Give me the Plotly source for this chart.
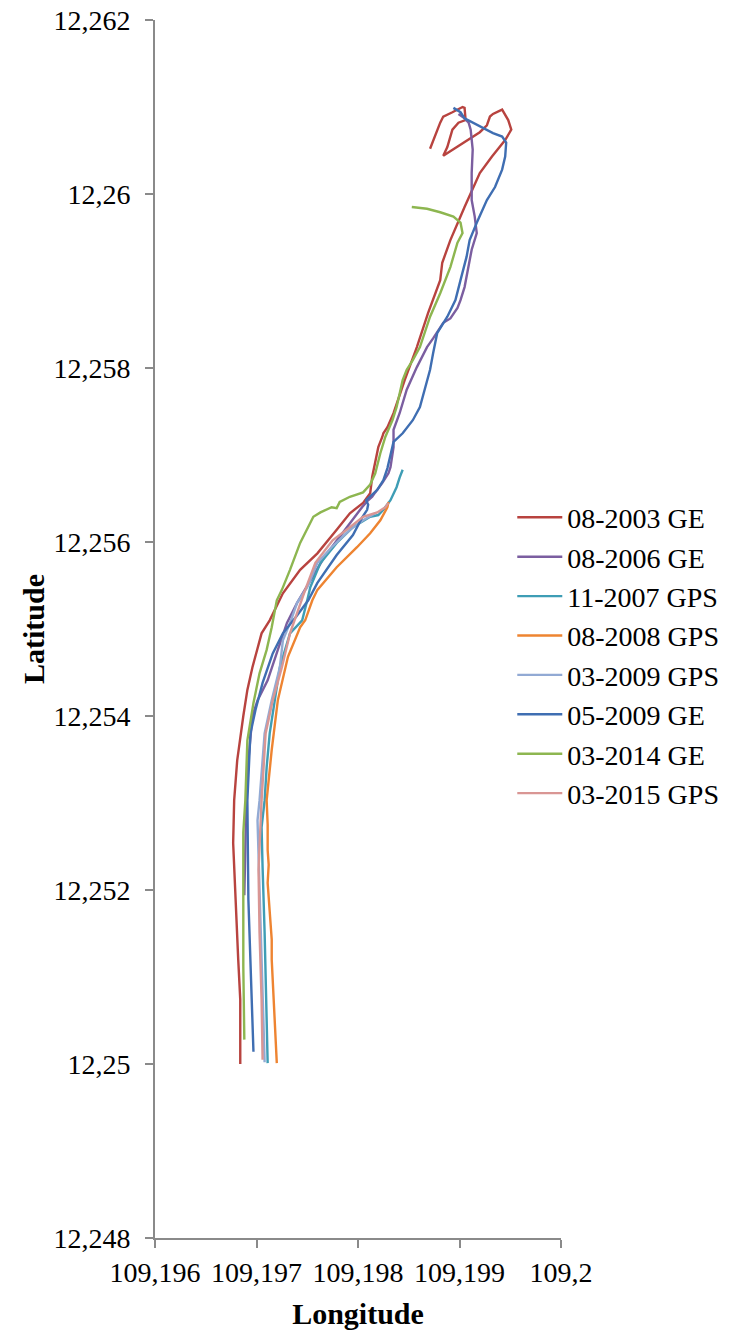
import plotly.graph_objects as go

# Surveyed river-bank tracks: (longitude, latitude) pairs, decimal degrees
TRACK_2003_GE = [
    (109.19684, 12.25000), (109.19684, 12.25074), (109.19682, 12.25120), (109.19681, 12.25151),
    (109.19679, 12.25200), (109.19677, 12.25254), (109.19678, 12.25303), (109.19681, 12.25349),
    (109.19687, 12.25400), (109.19691, 12.25430), (109.19696, 12.25456), (109.19705, 12.25495),
    (109.19713, 12.25510), (109.19726, 12.25541), (109.19743, 12.25568), (109.19760, 12.25587),
    (109.19779, 12.25614), (109.19792, 12.25633), (109.19805, 12.25645), (109.19812, 12.25656),
    (109.19814, 12.25675), (109.19817, 12.25691), (109.19820, 12.25709), (109.19824, 12.25721),
    (109.19825, 12.25725), (109.19829, 12.25732), (109.19832, 12.25740), (109.19835, 12.25748),
    (109.19846, 12.25786), (109.19858, 12.25824), (109.19869, 12.25863), (109.19881, 12.25901),
    (109.19883, 12.25921), (109.19891, 12.25947), (109.19905, 12.25985), (109.19913, 12.26005),
    (109.19920, 12.26024), (109.19932, 12.26043), (109.19945, 12.26062), (109.19951, 12.26074),
    (109.19948, 12.26085), (109.19942, 12.26097), (109.19937, 12.26094), (109.19933, 12.26092),
    (109.19930, 12.26089), (109.19927, 12.26079), (109.19920, 12.26071), (109.19908, 12.26062),
    (109.19888, 12.26048), (109.19884, 12.26044), (109.19888, 12.26054), (109.19893, 12.26074),
    (109.19899, 12.26082), (109.19906, 12.26085), (109.19905, 12.26099), (109.19903, 12.26100),
    (109.19893, 12.26094), (109.19884, 12.26089), (109.19881, 12.26082), (109.19871, 12.26052),
]

TRACK_2006_GE = [
    (109.19688, 12.25194), (109.19689, 12.25246), (109.19690, 12.25303), (109.19692, 12.25349),
    (109.19696, 12.25400), (109.19701, 12.25418), (109.19711, 12.25441), (109.19721, 12.25476),
    (109.19730, 12.25507), (109.19740, 12.25530), (109.19753, 12.25556), (109.19767, 12.25583),
    (109.19782, 12.25606), (109.19794, 12.25625), (109.19804, 12.25640), (109.19810, 12.25648),
    (109.19814, 12.25652), (109.19817, 12.25657), (109.19824, 12.25668), (109.19830, 12.25679),
    (109.19832, 12.25686), (109.19835, 12.25709), (109.19835, 12.25729), (109.19841, 12.25748),
    (109.19848, 12.25775), (109.19858, 12.25801), (109.19868, 12.25824), (109.19874, 12.25834),
    (109.19884, 12.25852), (109.19891, 12.25857), (109.19898, 12.25869), (109.19901, 12.25878),
    (109.19905, 12.25893), (109.19912, 12.25936), (109.19917, 12.25955), (109.19915, 12.25974),
    (109.19912, 12.25993), (109.19912, 12.26024), (109.19913, 12.26051), (109.19911, 12.26074),
    (109.19909, 12.26082), (109.19905, 12.26087), (109.19901, 12.26091), (109.19899, 12.26092),
]

TRACK_2007_GPS = [
    (109.19711, 12.25001), (109.19710, 12.25054), (109.19708, 12.25151), (109.19706, 12.25226),
    (109.19705, 12.25272), (109.19708, 12.25303), (109.19710, 12.25341), (109.19713, 12.25380),
    (109.19718, 12.25418), (109.19723, 12.25456), (109.19733, 12.25495), (109.19745, 12.25510),
    (109.19750, 12.25533), (109.19753, 12.25548), (109.19763, 12.25576), (109.19779, 12.25599),
    (109.19795, 12.25617), (109.19812, 12.25629), (109.19820, 12.25631), (109.19825, 12.25637),
    (109.19832, 12.25648), (109.19838, 12.25663), (109.19841, 12.25674), (109.19844, 12.25683),
]

TRACK_2008_GPS = [
    (109.19720, 12.25001), (109.19719, 12.25028), (109.19718, 12.25054), (109.19717, 12.25074),
    (109.19716, 12.25097), (109.19715, 12.25120), (109.19715, 12.25143), (109.19714, 12.25160),
    (109.19713, 12.25177), (109.19712, 12.25194), (109.19711, 12.25208), (109.19712, 12.25229),
    (109.19711, 12.25246), (109.19711, 12.25275), (109.19710, 12.25303), (109.19715, 12.25361),
    (109.19721, 12.25418), (109.19731, 12.25468), (109.19743, 12.25502), (109.19748, 12.25510),
    (109.19755, 12.25533), (109.19760, 12.25545), (109.19779, 12.25571), (109.19799, 12.25594),
    (109.19812, 12.25610), (109.19822, 12.25625), (109.19829, 12.25640), (109.19830, 12.25646),
]

TRACK_2009_GPS = [
    (109.19708, 12.25002), (109.19706, 12.25074), (109.19704, 12.25151), (109.19702, 12.25226),
    (109.19701, 12.25280), (109.19703, 12.25303), (109.19708, 12.25380), (109.19715, 12.25418),
    (109.19723, 12.25456), (109.19726, 12.25487), (109.19734, 12.25510), (109.19740, 12.25530),
    (109.19750, 12.25548), (109.19760, 12.25576), (109.19774, 12.25594), (109.19792, 12.25614),
    (109.19805, 12.25625), (109.19817, 12.25633),
]

TRACK_2009_GE = [
    (109.19697, 12.25014), (109.19694, 12.25112), (109.19692, 12.25189), (109.19691, 12.25303),
    (109.19694, 12.25380), (109.19699, 12.25407), (109.19706, 12.25438), (109.19716, 12.25472),
    (109.19726, 12.25495), (109.19739, 12.25514), (109.19751, 12.25533), (109.19760, 12.25553),
    (109.19779, 12.25585), (109.19795, 12.25608), (109.19804, 12.25628), (109.19809, 12.25637),
    (109.19810, 12.25643), (109.19808, 12.25648), (109.19812, 12.25652), (109.19819, 12.25660),
    (109.19825, 12.25671), (109.19829, 12.25685), (109.19832, 12.25700), (109.19835, 12.25715),
    (109.19844, 12.25725), (109.19854, 12.25740), (109.19861, 12.25755), (109.19866, 12.25775),
    (109.19871, 12.25798), (109.19874, 12.25817), (109.19878, 12.25840), (109.19888, 12.25859),
    (109.19896, 12.25878), (109.19901, 12.25901), (109.19907, 12.25928), (109.19910, 12.25947),
    (109.19917, 12.25967), (109.19927, 12.25993), (109.19935, 12.26008), (109.19942, 12.26028),
    (109.19945, 12.26043), (109.19946, 12.26059), (109.19942, 12.26066), (109.19933, 12.26070),
    (109.19923, 12.26076), (109.19913, 12.26082), (109.19905, 12.26087), (109.19901, 12.26094),
    (109.19894, 12.26099),
]

TRACK_2014_GE = [
    (109.19688, 12.25028), (109.19687, 12.25112), (109.19687, 12.25189), (109.19687, 12.25266),
    (109.19689, 12.25303), (109.19691, 12.25372), (109.19697, 12.25415), (109.19703, 12.25449),
    (109.19710, 12.25476), (109.19715, 12.25502), (109.19720, 12.25533), (109.19725, 12.25545),
    (109.19733, 12.25568), (109.19743, 12.25599), (109.19756, 12.25629), (109.19763, 12.25634),
    (109.19774, 12.25640), (109.19779, 12.25639), (109.19782, 12.25646), (109.19792, 12.25652),
    (109.19805, 12.25657), (109.19812, 12.25666), (109.19817, 12.25679), (109.19822, 12.25702),
    (109.19827, 12.25721), (109.19834, 12.25740), (109.19838, 12.25755), (109.19844, 12.25786),
    (109.19848, 12.25798), (109.19854, 12.25809), (109.19861, 12.25824), (109.19871, 12.25859),
    (109.19881, 12.25886), (109.19886, 12.25901), (109.19891, 12.25916), (109.19898, 12.25944),
    (109.19903, 12.25955), (109.19901, 12.25967), (109.19894, 12.25974), (109.19881, 12.25979),
    (109.19868, 12.25983), (109.19853, 12.25985),
]

TRACK_2015_GPS = [
    (109.19706, 12.25005), (109.19705, 12.25074), (109.19703, 12.25151), (109.19702, 12.25223),
    (109.19705, 12.25303), (109.19709, 12.25380), (109.19716, 12.25418), (109.19725, 12.25456),
    (109.19733, 12.25495), (109.19741, 12.25522), (109.19748, 12.25545), (109.19758, 12.25576),
    (109.19775, 12.25602), (109.19792, 12.25617), (109.19805, 12.25629), (109.19819, 12.25634),
    (109.19827, 12.25640), (109.19830, 12.25645),
]

SERIES_NAMES = ["08-2003 GE", "08-2006 GE", "11-2007 GPS", "08-2008 GPS",
                "03-2009 GPS", "05-2009 GE", "03-2014 GE", "03-2015 GPS"]
SERIES_TRACKS = [TRACK_2003_GE, TRACK_2006_GE, TRACK_2007_GPS, TRACK_2008_GPS,
                 TRACK_2009_GPS, TRACK_2009_GE, TRACK_2014_GE, TRACK_2015_GPS]
SERIES_COLORS = ["#B8433F", "#7B5EA0", "#3E9DB5", "#EE8431",
                 "#92AAD4", "#3F6EB2", "#8DB650", "#D99694"]

X_TICKS = [109.196, 109.197, 109.198, 109.199, 109.2]
X_TICK_LABELS = ["109,196", "109,197", "109,198", "109,199", "109,2"]
Y_TICKS = [12.248, 12.25, 12.252, 12.254, 12.256, 12.258, 12.26, 12.262]
Y_TICK_LABELS = ["12,248", "12,25", "12,252", "12,254", "12,256", "12,258", "12,26", "12,262"]

SERIF = "Liberation Serif, Times New Roman, serif"
AXIS_GREY = "#8a8a8a"

fig = go.Figure()
for name, track, color in zip(SERIES_NAMES, SERIES_TRACKS, SERIES_COLORS):
    lon = [p[0] for p in track]
    lat = [p[1] for p in track]
    fig.add_trace(go.Scatter(
        x=lon, y=lat, mode="lines", name=name,
        line=dict(color=color, width=2.4),
    ))

axis_common = dict(
    showgrid=False, zeroline=False, showline=True, automargin=False,
    linecolor=AXIS_GREY, linewidth=2,
    ticks="outside", tickcolor=AXIS_GREY, tickwidth=2, ticklen=8,
    tickfont=dict(family=SERIF, size=28, color="#000000"),
)

fig.update_layout(
    width=740, height=1331,
    margin=dict(l=155, r=179, t=20, b=93),
    paper_bgcolor="white", plot_bgcolor="white",
    showlegend=True,
    legend=dict(
        x=0.880, y=0.612, xanchor="left", yanchor="top",
        font=dict(family=SERIF, size=28, color="#000000"),
        bgcolor="rgba(0,0,0,0)", itemwidth=45, tracegroupgap=0,
    ),
    xaxis=dict(
        range=[109.196, 109.2], tickvals=X_TICKS, ticktext=X_TICK_LABELS,
        ticklabelstandoff=0,
        title=dict(text="<b>Longitude</b>", standoff=16,
                   font=dict(family=SERIF, size=30, color="#000000")),
        **axis_common,
    ),
    yaxis=dict(
        range=[12.248, 12.262], tickvals=Y_TICKS, ticktext=Y_TICK_LABELS,
        ticklabelstandoff=9,
        title=dict(text="<b>Latitude</b>", standoff=0,
                   font=dict(family=SERIF, size=30, color="#000000")),
        **axis_common,
    ),
)

fig.write_html("out.html")
